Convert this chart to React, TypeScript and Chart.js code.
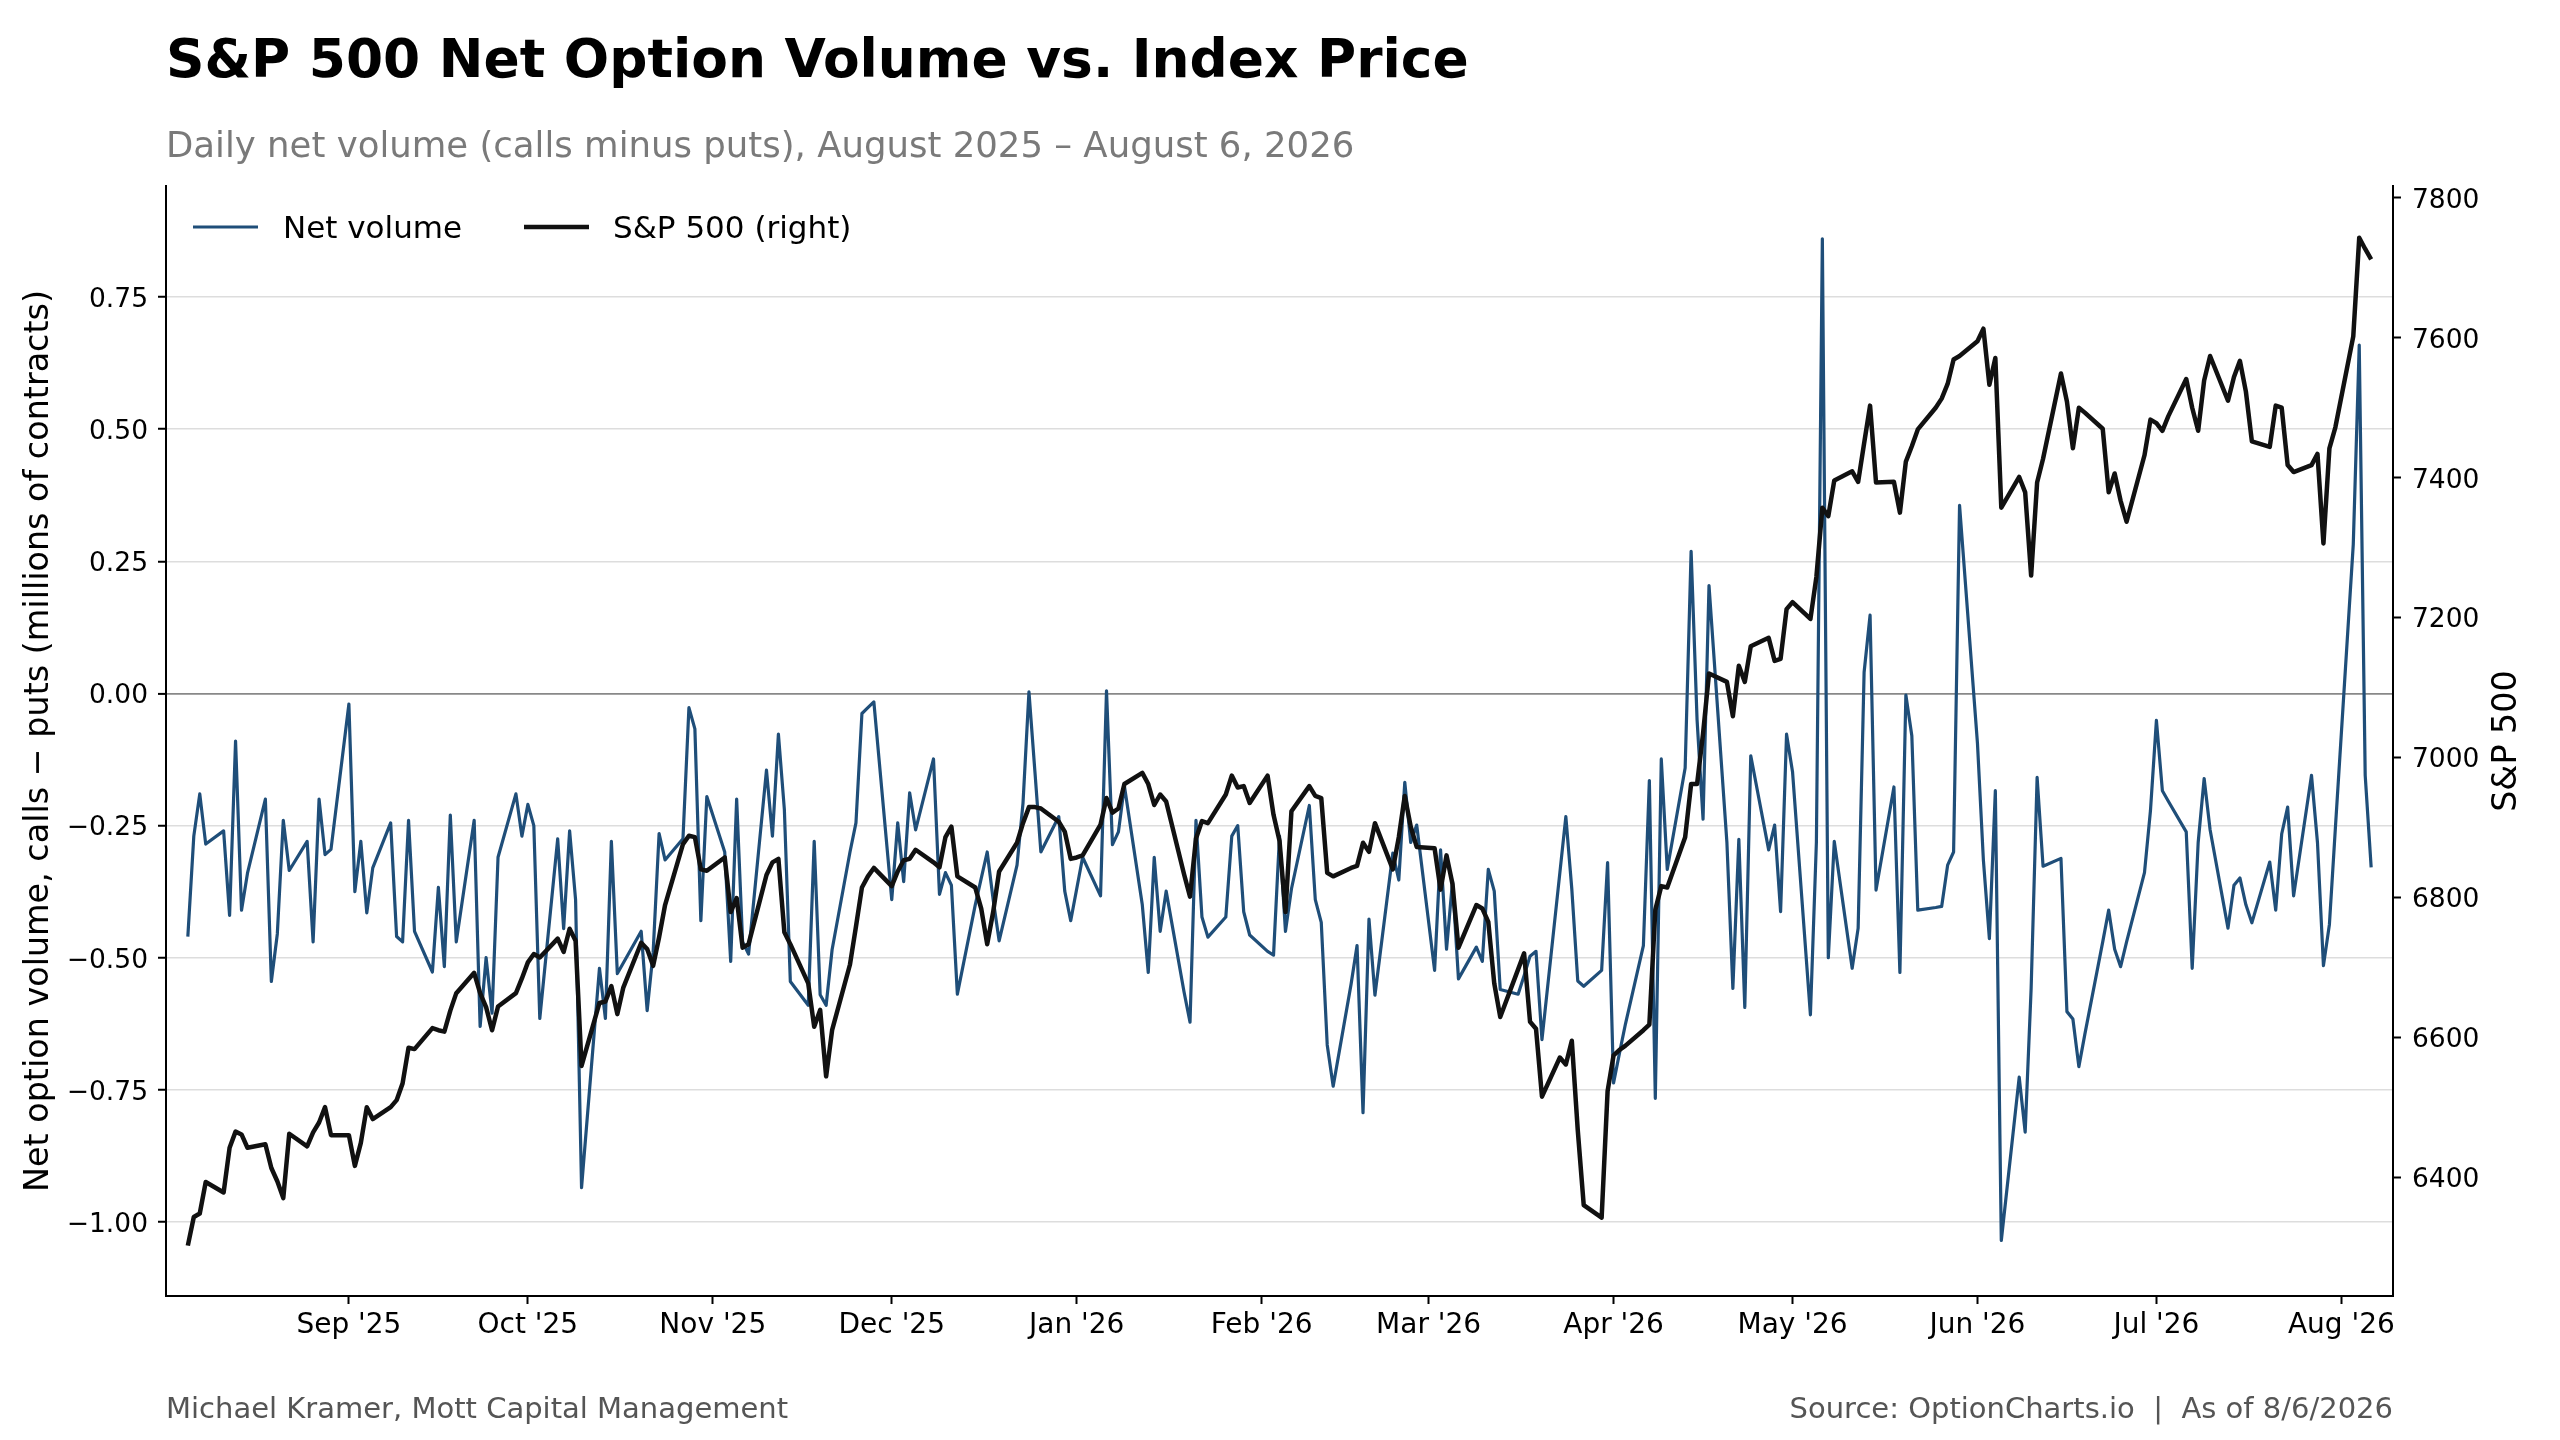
import { Chart, registerables } from 'chart.js';
import { useEffect, useRef } from 'react';

Chart.register(...registerables);

// trading days run Aug 5, 2025 through Aug 6, 2026 (weekdays)
const FIRST_DAY = '2025-08-05';
const LAST_DAY = '2026-08-06';

// net option volume, millions of contracts (calls minus puts), one array per month
const netAug25 = [-0.46, -0.27, -0.19, -0.285, -0.26, -0.42, -0.09, -0.41, -0.34, -0.2, -0.545, -0.455, -0.24, -0.335, -0.28, -0.47, -0.2, -0.305, -0.295];
const netSep25 = [-0.02, -0.375, -0.28, -0.415, -0.33, -0.245, -0.46, -0.47, -0.24, -0.45, -0.527, -0.367, -0.517, -0.23, -0.47, -0.24, -0.63, -0.5, -0.605, -0.31, -0.19, -0.27];
const netOct25 = [-0.21, -0.25, -0.615, -0.275, -0.445, -0.26, -0.39, -0.935, -0.52, -0.615, -0.28, -0.53, -0.51, -0.45, -0.6, -0.49, -0.265, -0.315, -0.275, -0.027, -0.067, -0.43, -0.195];
const netNov25 = [-0.3, -0.507, -0.2, -0.47, -0.493, -0.145, -0.27, -0.077, -0.22, -0.545, -0.59, -0.28, -0.57, -0.59, -0.485, -0.3, -0.245, -0.038, -0.027, -0.016];
const netDec25 = [-0.39, -0.245, -0.356, -0.188, -0.258, -0.124, -0.38, -0.339, -0.363, -0.569, -0.4, -0.35, -0.3, -0.39, -0.468, -0.325, -0.208, 0.003, -0.148, -0.3, -0.233, -0.374, -0.43];
const netJan26 = [-0.37, -0.31, -0.383, 0.005, -0.286, -0.262, -0.175, -0.4, -0.528, -0.31, -0.45, -0.374, -0.565, -0.622, -0.24, -0.423, -0.461, -0.423, -0.27, -0.25, -0.413, -0.457];
const netFeb26 = [-0.488, -0.495, -0.27, -0.45, -0.37, -0.212, -0.39, -0.433, -0.665, -0.743, -0.55, -0.477, -0.793, -0.427, -0.571, -0.302, -0.353, -0.168, -0.282, -0.249];
const netMar26 = [-0.524, -0.296, -0.484, -0.356, -0.54, -0.48, -0.507, -0.333, -0.374, -0.56, -0.569, -0.534, -0.497, -0.488, -0.655, -0.339, -0.233, -0.37, -0.544, -0.554, -0.524, -0.32];
const netApr26 = [-0.737, -0.68, -0.625, -0.477, -0.165, -0.766, -0.124, -0.333, -0.141, 0.269, -0.05, -0.238, 0.204, -0.282, -0.558, -0.276, -0.594, -0.118, -0.296, -0.249, -0.413, -0.077];
const netMay26 = [-0.148, -0.608, -0.282, 0.86, -0.5, -0.28, -0.52, -0.444, 0.04, 0.148, -0.372, -0.177, -0.528, -0.003, -0.08, -0.41, -0.405, -0.403, -0.325, -0.3, 0.356];
const netJun26 = [-0.094, -0.316, -0.464, -0.184, -1.035, -0.726, -0.83, -0.558, -0.159, -0.327, -0.312, -0.602, -0.616, -0.706, -0.645, -0.47, -0.41, -0.484, -0.517, -0.47, -0.339, -0.222];
const netJul26 = [-0.051, -0.184, -0.204, -0.262, -0.52, -0.282, -0.161, -0.258, -0.444, -0.363, -0.349, -0.4, -0.434, -0.319, -0.41, -0.266, -0.215, -0.383, -0.155, -0.282, -0.515, -0.437, -0.255];
const netAug26 = [0.282, 0.659, -0.155, -0.329];

// S&P 500 close, one array per month
const spxAug25 = [6302, 6343, 6348, 6393, 6378, 6442, 6465, 6461, 6442, 6447, 6413, 6394, 6370, 6462, 6444, 6464, 6478, 6500, 6460];
const spxSep25 = [6460, 6416, 6449, 6500, 6483, 6500, 6510, 6534, 6585, 6583, 6613, 6610, 6608, 6638, 6663, 6692, 6663, 6643, 6610, 6644, 6663, 6684];
const spxOct25 = [6707, 6719, 6714, 6741, 6722, 6755, 6738, 6559, 6649, 6651, 6673, 6633, 6671, 6735, 6726, 6702, 6743, 6789, 6876, 6888, 6886, 6840, 6838];
const spxNov25 = [6857, 6779, 6799, 6728, 6733, 6832, 6850, 6855, 6750, 6733, 6677, 6615, 6639, 6544, 6610, 6704, 6758, 6814, 6830, 6842];
const spxDec25 = [6816, 6837, 6853, 6855, 6868, 6850, 6843, 6886, 6901, 6830, 6814, 6784, 6733, 6779, 6837, 6878, 6906, 6929, 6929, 6927, 6908, 6894, 6855];
const spxJan26 = [6857, 6860, 6904, 6942, 6921, 6927, 6962, 6978, 6962, 6932, 6947, 6937, 6833, 6801, 6884, 6909, 6906, 6947, 6974, 6957, 6959, 6935];
const spxFeb26 = [6974, 6918, 6881, 6779, 6923, 6959, 6945, 6942, 6835, 6830, 6842, 6845, 6878, 6865, 6906, 6840, 6886, 6945, 6901, 6872];
const spxMar26 = [6870, 6811, 6860, 6819, 6728, 6789, 6784, 6765, 6677, 6629, 6697, 6720, 6622, 6612, 6515, 6571, 6561, 6595, 6467, 6360, 6342, 6523];
const spxApr26 = [6574, 6582, 6588, 6610, 6618, 6782, 6816, 6814, 6886, 6962, 6962, 7034, 7120, 7108, 7059, 7131, 7108, 7159, 7171, 7138, 7141, 7212];
const spxMay26 = [7222, 7198, 7258, 7357, 7345, 7396, 7409, 7394, 7449, 7503, 7393, 7394, 7350, 7423, 7445, 7469, 7500, 7513, 7534, 7569, 7574];
const spxJun26 = [7595, 7613, 7533, 7571, 7357, 7401, 7379, 7260, 7393, 7427, 7549, 7509, 7442, 7500, 7493, 7470, 7379, 7406, 7367, 7337, 7432, 7483];
const spxJul26 = [7478, 7467, 7488, 7541, 7500, 7467, 7539, 7574, 7510, 7544, 7567, 7523, 7452, 7444, 7503, 7500, 7418, 7408, 7418, 7434, 7306, 7442, 7472];
const spxAug26 = [7602, 7743, 7727, 7712];

// axis ticks
const monthTickDates = ['2025-09-01', '2025-10-01', '2025-11-01', '2025-12-01', '2026-01-01', '2026-02-01', '2026-03-01', '2026-04-01', '2026-05-01', '2026-06-01', '2026-07-01', '2026-08-01'];
const monthTickLabels = ["Sep '25", "Oct '25", "Nov '25", "Dec '25", "Jan '26", "Feb '26", "Mar '26", "Apr '26", "May '26", "Jun '26", "Jul '26", "Aug '26"];
const volumeTicks = [-1, -0.75, -0.5, -0.25, 0, 0.25, 0.5, 0.75];
const spxTicks = [6400, 6600, 6800, 7000, 7200, 7400, 7600, 7800];

const TITLE = 'S&P 500 Net Option Volume vs. Index Price';
const SUBTITLE = 'Daily net volume (calls minus puts), August 2025 \u2013 August 6, 2026';
const LEFT_LABEL = 'Net option volume, calls \u2212 puts (millions of contracts)';
const RIGHT_LABEL = 'S&P 500';
const FOOT_LEFT = 'Michael Kramer, Mott Capital Management';
const FOOT_RIGHT = 'Source: OptionCharts.io  |  As of 8/6/2026';

const FONT = '"DejaVu Sans", sans-serif';
const BLUE = '#1f4e79';
const BLACK = '#111111';
const DAY = 86400000;

const utc = (d: string) => Date.parse(d + 'T00:00:00Z');

function weekdays(first: string, last: string): number[] {
  const out: number[] = [];
  for (let t = utc(first); t <= utc(last); t += DAY) {
    const wd = new Date(t).getUTCDay();
    if (wd !== 0 && wd !== 6) out.push(t);
  }
  return out;
}

const t0 = utc(FIRST_DAY);
const dayX = weekdays(FIRST_DAY, LAST_DAY).map((t) => (t - t0) / DAY);

const netVolume = [
  ...netAug25, ...netSep25, ...netOct25, ...netNov25, ...netDec25, ...netJan26, ...netFeb26,
  ...netMar26, ...netApr26, ...netMay26, ...netJun26, ...netJul26, ...netAug26,
];
const spx = [
  ...spxAug25, ...spxSep25, ...spxOct25, ...spxNov25, ...spxDec25, ...spxJan26, ...spxFeb26,
  ...spxMar26, ...spxApr26, ...spxMay26, ...spxJun26, ...spxJul26, ...spxAug26,
];

const tickX = monthTickDates.map((d) => (utc(d) - t0) / DAY);
const lastX = dayX[dayX.length - 1];
const xPad = lastX * 0.01;

const fmtVolume = (v: number) => (v < 0 ? '\u2212' : '') + Math.abs(v).toFixed(2);

const chartText = {
  id: 'chartText',
  afterDraw(chart: Chart) {
    const { ctx, chartArea } = chart;
    const midY = (chartArea.top + chartArea.bottom) / 2;
    ctx.save();
    ctx.textBaseline = 'alphabetic';

    ctx.textAlign = 'left';
    ctx.fillStyle = '#000000';
    ctx.font = `bold 53.4px ${FONT}`;
    ctx.fillText(TITLE, chartArea.left, 77);

    ctx.fillStyle = '#7a7a7a';
    ctx.font = `35.5px ${FONT}`;
    ctx.fillText(SUBTITLE, chartArea.left, 157);

    ctx.fillStyle = '#555555';
    ctx.font = `29px ${FONT}`;
    ctx.fillText(FOOT_LEFT, chartArea.left, 1418);
    ctx.textAlign = 'right';
    ctx.fillText(FOOT_RIGHT, chartArea.right, 1418);

    // axis labels, both read bottom to top
    ctx.fillStyle = '#000000';
    ctx.font = `33.4px ${FONT}`;
    ctx.textAlign = 'center';
    ctx.save();
    ctx.translate(48, midY);
    ctx.rotate(-Math.PI / 2);
    ctx.fillText(LEFT_LABEL, 0, 0);
    ctx.restore();
    ctx.save();
    ctx.translate(2516, midY);
    ctx.rotate(-Math.PI / 2);
    ctx.fillText(RIGHT_LABEL, 0, 0);
    ctx.restore();

    // legend
    const legendY = 227;
    ctx.lineCap = 'butt';
    ctx.strokeStyle = BLUE;
    ctx.lineWidth = 3;
    ctx.beginPath();
    ctx.moveTo(193, legendY);
    ctx.lineTo(258, legendY);
    ctx.stroke();
    ctx.strokeStyle = BLACK;
    ctx.lineWidth = 4.5;
    ctx.beginPath();
    ctx.moveTo(524, legendY);
    ctx.lineTo(589, legendY);
    ctx.stroke();
    ctx.font = `31px ${FONT}`;
    ctx.textAlign = 'left';
    ctx.fillText('Net volume', 283, 238);
    ctx.fillText('S&P 500 (right)', 613, 238);

    ctx.restore();
  },
};

export default function App() {
  const canvasRef = useRef<HTMLCanvasElement>(null);

  useEffect(() => {
    const canvas = canvasRef.current;
    if (!canvas) {
      return;
    }

    const tickFont = { family: FONT, size: 26.5 };

    const chart = new Chart(canvas, {
      type: 'line',
      data: {
        datasets: [
          {
            label: 'S&P 500 (right)',
            data: dayX.map((x, i) => ({ x, y: spx[i] })),
            yAxisID: 'y1',
            borderColor: BLACK,
            borderWidth: 4.5,
            pointRadius: 0,
            borderJoinStyle: 'round',
            tension: 0,
          },
          {
            label: 'Net volume',
            data: dayX.map((x, i) => ({ x, y: netVolume[i] })),
            yAxisID: 'y',
            borderColor: BLUE,
            borderWidth: 3.2,
            pointRadius: 0,
            borderJoinStyle: 'round',
            tension: 0,
          },
        ],
      },
      plugins: [chartText],
      options: {
        animation: false,
        responsive: false,
        devicePixelRatio: 1,
        layout: { padding: { top: 186, left: 0, right: 0, bottom: 0 } },
        plugins: {
          legend: { display: false },
          tooltip: { enabled: false },
        },
        scales: {
          x: {
            type: 'linear',
            min: -xPad,
            max: lastX + xPad,
            afterFit: (s) => {
              s.height = 144;
            },
            afterBuildTicks: (s) => {
              s.ticks = tickX.map((value) => ({ value }));
            },
            ticks: {
              autoSkip: false,
              maxRotation: 0,
              minRotation: 0,
              padding: 5,
              color: '#000000',
              font: { family: FONT, size: 28 },
              callback: (value) => monthTickLabels[tickX.indexOf(Number(value))] ?? '',
            },
            grid: {
              drawOnChartArea: false,
              drawTicks: true,
              tickLength: 8,
              tickColor: '#000000',
              tickWidth: 2,
            },
            border: { color: '#000000', width: 2 },
          },
          y: {
            type: 'linear',
            position: 'left',
            min: -1.14,
            max: 0.96,
            afterFit: (s) => {
              s.width = 166;
            },
            afterBuildTicks: (s) => {
              s.ticks = volumeTicks.map((value) => ({ value }));
            },
            ticks: {
              padding: 10,
              labelOffset: 3,
              color: '#000000',
              font: tickFont,
              callback: (value) => fmtVolume(Number(value)),
            },
            grid: {
              color: (c) => (c.tick && c.tick.value === 0 ? '#888888' : '#dddddd'),
              lineWidth: (c) => (c.tick && c.tick.value === 0 ? 1.8 : 1.5),
              tickLength: 8,
              tickColor: '#000000',
              tickWidth: 2,
            },
            border: { color: '#000000', width: 2 },
          },
          y1: {
            type: 'linear',
            position: 'right',
            min: 6230,
            max: 7817,
            afterFit: (s) => {
              s.width = 167;
            },
            afterBuildTicks: (s) => {
              s.ticks = spxTicks.map((value) => ({ value }));
            },
            ticks: {
              padding: 11,
              labelOffset: 3,
              color: '#000000',
              font: tickFont,
              callback: (value) => String(value),
            },
            grid: {
              drawOnChartArea: false,
              tickLength: 8,
              tickColor: '#000000',
              tickWidth: 2,
            },
            border: { color: '#000000', width: 2 },
          },
        },
      },
    });

    return () => {
      chart.destroy();
    };
  }, []);

  return (
    <div style={{ position: 'absolute', left: 0, top: 0, width: 2560, height: 1440, background: '#ffffff' }}>
      <canvas ref={canvasRef} width={2560} height={1440} style={{ display: 'block', width: 2560, height: 1440 }} />
    </div>
  );
}
